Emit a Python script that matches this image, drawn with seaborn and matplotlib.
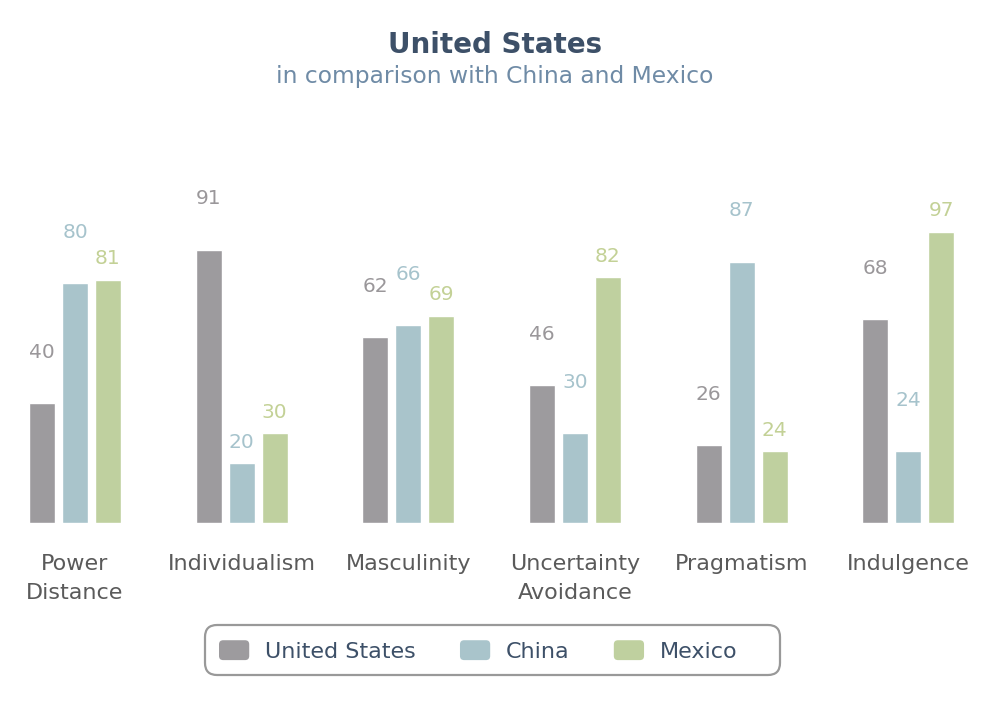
import matplotlib
matplotlib.use("Agg")
import matplotlib.pyplot as plt
import seaborn as sns
import pandas as pd
from matplotlib.patches import Patch, FancyBboxPatch
from matplotlib.legend_handler import HandlerPatch

categories = ["Power\nDistance", "Individualism", "Masculinity",
              "Uncertainty\nAvoidance", "Pragmatism", "Indulgence"]
series = ["United States", "China", "Mexico"]
us_values = [40, 91, 62, 46, 26, 68]
china_values = [80, 20, 66, 30, 87, 24]
mexico_values = [81, 30, 69, 82, 24, 97]

colors = ["#9d9b9e", "#a9c4cb", "#bfd09f"]
label_colors = ["#9a979a", "#a6c3cc", "#c3d196"]
# label offset above bar top, in pixels (per series, per category)
label_offsets_px = [
    [51, 51, 51, 51, 51, 51],
    [51, 21, 51, 51, 51, 51],
    [21, 21, 21, 21, 21, 21],
]

sns.set_theme(style="white")
plt.rcParams["font.family"] = ["DejaVu Sans"]

df = pd.DataFrame({
    "category": categories * 3,
    "series": [s for s in series for _ in categories],
    "value": us_values + china_values + mexico_values,
})

W, H = 1005, 706
fig = plt.figure(figsize=(W / 100, H / 100), dpi=100)
ax = fig.add_axes([0, 183 / H, 1, 393 / H])

sns.barplot(data=df, x="category", y="value", hue="series", order=categories,
            hue_order=series, palette=colors, width=0.594, gap=0.21,
            saturation=1, ax=ax, legend=False)

ax.set_xlim(-0.45, 5.58)
ax.set_ylim(0, 131)
for sp in ax.spines.values():
    sp.set_visible(False)
ax.set_yticks([])
ax.set_xlabel("")
ax.set_ylabel("")
ax.tick_params(axis="x", length=0, pad=22, labelsize=16, labelcolor="#5a5a5a")
for t in ax.get_xticklabels():
    t.set_linespacing(1.6)

for si, cont in enumerate(ax.containers):
    for ci, bar in enumerate(cont):
        x = bar.get_x() + bar.get_width() / 2
        y = bar.get_height()
        ax.annotate(f"{int(round(y))}", (x, y),
                    xytext=(0, label_offsets_px[si][ci] * 0.72),
                    textcoords="offset points", ha="center", va="center",
                    fontsize=14.5, color=label_colors[si])

fig.text(0.4925, 1 - 45 / H, "United States", ha="center", va="center",
         fontsize=20, fontweight="bold", color="#3d5068")
fig.text(0.4925, 1 - 77 / H, "in comparison with China and Mexico",
         ha="center", va="center", fontsize=16.8, color="#6f8ba6")


class RoundHandler(HandlerPatch):
    def create_artists(self, legend, orig_handle, xdescent, ydescent,
                       width, height, fontsize, trans):
        p = FancyBboxPatch((-xdescent + 1.5, -ydescent + 1.5), width - 3, height - 3,
                           boxstyle="round,pad=1.5,rounding_size=3",
                           facecolor=orig_handle.get_facecolor(),
                           edgecolor="none", transform=trans)
        return [p]


# legend frame box (figure pixel coordinates)
frame = FancyBboxPatch((205 / W, 1 - 675 / H), 575 / W, 50 / H,
                       boxstyle="round,pad=0,rounding_size=0.012",
                       transform=fig.transFigure, facecolor="white",
                       edgecolor="#999999", linewidth=1.6,
                       mutation_aspect=W / H)
fig.add_artist(frame)

handles = [Patch(facecolor=c, label=s) for c, s in zip(colors, series)]
leg = fig.legend(handles=handles, loc="center left", ncol=3,
                 bbox_to_anchor=(219 / W, 1 - 651 / H),
                 frameon=False, fontsize=16,
                 handlelength=1.36, handleheight=1.0, handletextpad=0.7,
                 columnspacing=2.0, borderpad=0, borderaxespad=0,
                 handler_map={Patch: RoundHandler()})
for t in leg.get_texts():
    t.set_color("#3d5068")

fig.savefig("out.png", dpi=100)
